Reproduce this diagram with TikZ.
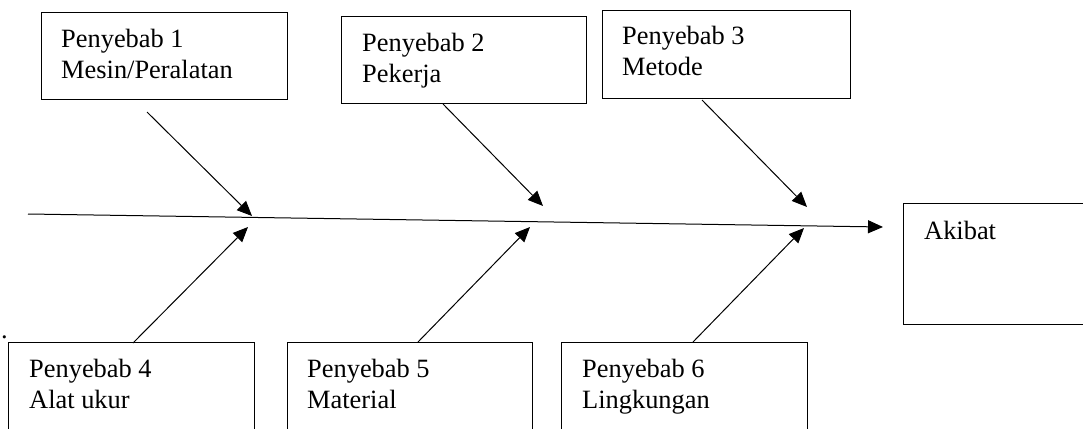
\documentclass[tikz,border=0pt]{standalone}
\usepackage{fontspec}
\setmainfont{Liberation Serif}
\usetikzlibrary{arrows.meta}
\begin{document}
\begin{tikzpicture}[x=1pt,y=-1pt,
  box/.style={draw,line width=1.2pt,inner sep=0pt,anchor=north west},
  lbl/.style={anchor=base west,inner sep=0pt,align=left,font=\fontsize{26.4}{31}\selectfont},
  arr/.style={line width=1pt,-{Triangle[length=15pt,width=13pt]}}]
\useasboundingbox (0,0) rectangle (1083,428);
\clip (0,0) rectangle (1083,428);
% boxes
\node[box,minimum width=246pt,minimum height=87pt] (b1) at (41,12) {};
\node[box,minimum width=245pt,minimum height=87pt] (b2) at (341,16) {};
\node[box,minimum width=248pt,minimum height=88pt] (b3) at (602,10) {};
\node[box,minimum width=246pt,minimum height=100pt] (b4) at (8,342) {};
\node[box,minimum width=245pt,minimum height=100pt] (b5) at (287,342) {};
\node[box,minimum width=246pt,minimum height=100pt] (b6) at (561,342) {};
\node[box,minimum width=190pt,minimum height=121pt] (ak) at (903,203) {};
% labels (base = baseline of the last line)
\node[lbl] (t1) at (61,78) {Penyebab 1\\Mesin/Peralatan};
\node[lbl] (t2) at (362,82) {Penyebab 2\\Pekerja};
\node[lbl] (t3) at (622,75) {Penyebab 3\\Metode};
\node[lbl] (t4) at (29,408) {Penyebab 4\\Alat ukur};
\node[lbl] (t5) at (307,408) {Penyebab 5\\Material};
\node[lbl] (t6) at (582,408) {Penyebab 6\\Lingkungan};
\node[lbl] (t7) at (924,239) {Akibat};
\node[lbl] (dot) at (1,338) {.};
% spine
\coordinate (s0) at (28,214);
\coordinate (s1) at (883,227);
\draw[arr] (s0) -- (s1);
% cause arrows
\coordinate (a1) at (147,112); \coordinate (p1) at (252,216);
\coordinate (a2) at (443,104); \coordinate (p2) at (543,206);
\coordinate (a3) at (702,100); \coordinate (p3) at (807,207);
\coordinate (a4) at (133,343); \coordinate (p4) at (248,227);
\coordinate (a5) at (418,342); \coordinate (p5) at (530,227);
\coordinate (a6) at (693,342); \coordinate (p6) at (804,228);
\draw[arr] (a1) -- (p1);
\draw[arr] (a2) -- (p2);
\draw[arr] (a3) -- (p3);
\draw[arr] (a4) -- (p4);
\draw[arr] (a5) -- (p5);
\draw[arr] (a6) -- (p6);
\end{tikzpicture}
\end{document}
